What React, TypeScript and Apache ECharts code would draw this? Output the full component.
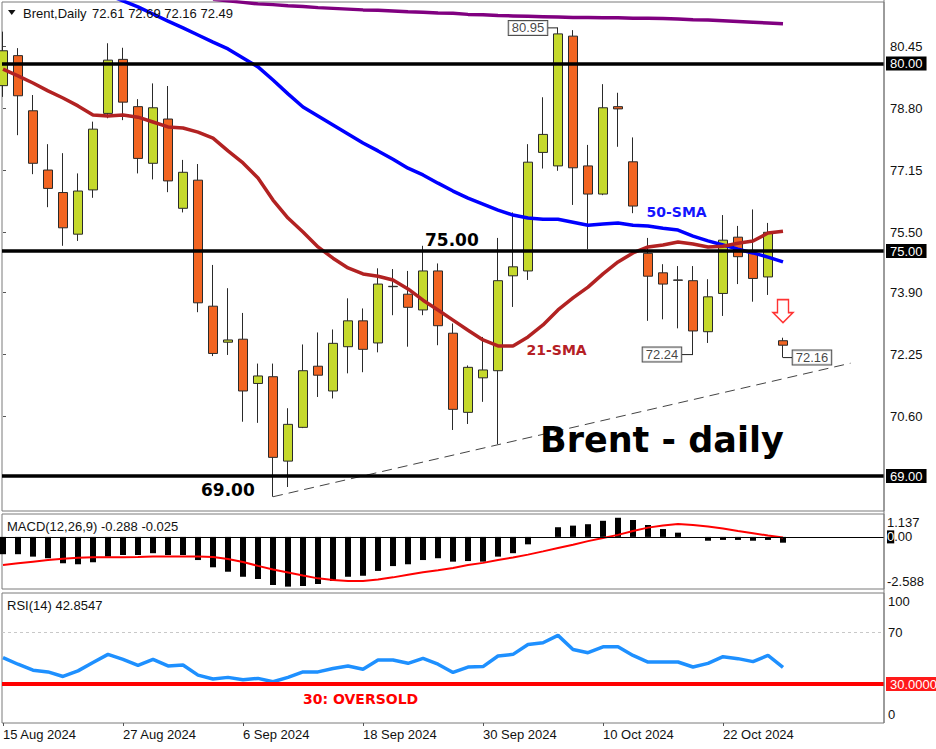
import React, { useEffect, useRef } from 'react';
import * as echarts from 'echarts';

// ---------- data ----------
const dateLabels = ['15 Aug 2024', '27 Aug 2024', '6 Sep 2024', '18 Sep 2024', '30 Sep 2024', '10 Oct 2024', '22 Oct 2024'];
const dateLabelIdx = [0, 8, 16, 24, 32, 40, 48];

const opens = [79.41, 80.21, 78.74, 77.16, 76.56, 75.45, 76.63, 78.67, 80.11, 78.85, 77.34, 78.52, 76.14, 76.89, 73.53, 72.57, 72.65, 71.47, 71.65, 69.4, 70.3, 71.93, 71.27, 72.45, 73.14, 72.55, 74.05, 73.85, 73.43, 74.47, 72.81, 70.7, 71.62, 71.81, 74.34, 74.47, 77.63, 77.27, 80.73, 77.27, 76.52, 78.85, 77.38, 74.94, 74.42, 74.23, 74.21, 72.85, 73.87, 75.37, 74.94, 74.31, 72.61];
const closes = [80.34, 79.14, 77.34, 76.67, 75.62, 76.6, 78.25, 80.09, 78.97, 77.47, 78.82, 76.87, 77.1, 73.62, 72.27, 72.63, 71.27, 71.67, 69.5, 70.38, 71.81, 71.69, 72.54, 73.14, 72.38, 74.12, 74.06, 73.5, 74.47, 73.01, 70.78, 71.9, 71.83, 74.21, 74.58, 77.37, 78.11, 80.79, 77.22, 76.52, 78.82, 78.79, 76.2, 74.33, 74.12, 74.22, 72.87, 73.78, 75.29, 74.85, 74.27, 75.5, 72.49];
const lows = [79.11, 78.09, 77.05, 76.17, 75.14, 75.27, 76.42, 78.54, 78.49, 77.07, 76.91, 76.57, 76.03, 73.37, 72.2, 72.23, 70.45, 70.42, 68.45, 68.71, 70.28, 71.11, 71.07, 71.74, 71.77, 72.3, 73.29, 72.45, 73.29, 72.49, 70.23, 70.39, 70.98, 69.85, 73.51, 74.23, 77.2, 77.14, 76.23, 75.05, 76.49, 77.78, 76.01, 73.14, 73.18, 72.94, 72.24, 72.55, 73.27, 74.12, 73.65, 73.83, 72.16];
const highs = [80.85, 80.41, 79.16, 77.85, 77.61, 77.07, 78.45, 80.54, 80.42, 79.05, 79.47, 79.4, 77.43, 77.32, 74.63, 74.01, 73.35, 72.0, 72.0, 70.81, 72.51, 72.83, 72.91, 73.74, 73.47, 74.54, 74.52, 74.47, 75.14, 74.67, 73.07, 71.95, 72.71, 75.35, 76.03, 77.85, 79.1, 80.95, 80.89, 77.83, 79.45, 79.22, 78.03, 75.35, 74.65, 74.6, 74.6, 74.25, 75.96, 75.67, 76.11, 75.75, 72.69];

const sma21 = [79.85, 79.67, 79.48, 79.27, 79.08, 78.87, 78.63, 78.6, 78.63, 78.57, 78.44, 78.31, 78.28, 78.17, 78.01, 77.67, 77.35, 76.95, 76.36, 75.88, 75.51, 75.11, 74.81, 74.55, 74.39, 74.33, 74.23, 73.99, 73.69, 73.43, 73.16, 72.89, 72.63, 72.47, 72.47, 72.71, 73.03, 73.43, 73.75, 74.04, 74.39, 74.71, 74.95, 75.11, 75.16, 75.24, 75.19, 75.11, 75.13, 75.21, 75.27, 75.48, 75.53];
const sma50 = [null, null, null, null, null, null, null, 81.83, 81.67, 81.51, 81.32, 81.13, 80.95, 80.76, 80.57, 80.39, 80.15, 79.91, 79.56, 79.19, 78.84, 78.6, 78.36, 78.12, 77.88, 77.67, 77.45, 77.21, 77.03, 76.81, 76.6, 76.41, 76.25, 76.09, 75.96, 75.88, 75.85, 75.85, 75.77, 75.69, 75.72, 75.75, 75.69, 75.67, 75.61, 75.56, 75.4, 75.27, 75.16, 75.05, 74.95, 74.84, 74.71];
const sma200 = [null, null, null, null, null, null, null, null, null, null, null, null, null, null, 81.71, 81.67, 81.63, 81.59, 81.57, 81.54, 81.52, 81.49, 81.47, 81.45, 81.43, 81.42, 81.4, 81.38, 81.37, 81.35, 81.34, 81.31, 81.3, 81.28, 81.27, 81.26, 81.25, 81.24, 81.23, 81.23, 81.22, 81.22, 81.21, 81.21, 81.2, 81.19, 81.17, 81.16, 81.14, 81.12, 81.1, 81.08, 81.06];

const macdHist = [-0.86, -0.86, -0.98, -1.06, -1.31, -1.36, -1.26, -0.98, -0.9, -0.9, -0.81, -0.9, -0.9, -1.15, -1.51, -1.73, -1.98, -2.09, -2.39, -2.47, -2.44, -2.34, -2.19, -1.98, -1.93, -1.69, -1.45, -1.36, -1.15, -1.06, -1.23, -1.2, -1.23, -0.98, -0.81, -0.37, 0, 0.48, 0.56, 0.63, 0.8, 0.95, 0.84, 0.59, 0.39, 0.21, 0, -0.19, -0.15, -0.15, -0.19, -0.15, -0.288];
const macdSignal = [-1.4, -1.31, -1.23, -1.15, -1.08, -1.03, -1.01, -1.01, -1.01, -1.0, -0.98, -0.98, -0.98, -0.98, -1.0, -1.1, -1.25, -1.44, -1.62, -1.77, -1.92, -2.06, -2.14, -2.19, -2.19, -2.12, -2.01, -1.88, -1.76, -1.66, -1.54, -1.4, -1.29, -1.15, -1.02, -0.88, -0.72, -0.55, -0.39, -0.21, -0.05, 0.1, 0.29, 0.46, 0.57, 0.64, 0.59, 0.52, 0.42, 0.29, 0.18, 0.07, -0.025];
const rsi14 = [50.3, 45.2, 40.6, 39.3, 35.8, 40.1, 46.5, 52.8, 49.0, 44.4, 49.0, 43.9, 44.6, 36.8, 33.8, 35.1, 33.3, 34.3, 31.7, 35.1, 39.3, 39.3, 41.9, 43.9, 41.4, 48.4, 48.4, 45.9, 49.7, 45.2, 38.9, 43.0, 43.4, 51.5, 52.8, 60.4, 61.7, 67.4, 56.6, 54.1, 58.6, 58.6, 52.0, 46.9, 46.9, 46.9, 43.1, 45.9, 51.0, 49.5, 47.2, 52.0, 42.8547];

const priceTicks = [80.45, 78.8, 77.15, 75.5, 73.9, 72.25, 70.6];
const priceLevels = [80, 75, 69];
const macdMin = -2.588;
const macdMax = 1.137;
const macdTicks = [macdMax, 0, macdMin];
const rsiTicks = [100, 70, 0];
const rsiOversold = 30;
const rsiOverbought = 70;

// trend line (support) end points [bar index, price]
const trendStart = [18, 68.45];
const trendEnd = [56.5, 72.01];

// price call-outs
const callouts = [
  { at: 35, price: 80.95, bar: 37, from: 36.33 },
  { at: 43.93, price: 72.24, bar: 46, from: 45.27 },
  { at: 53.93, price: 72.16, bar: 52, from: 52.6 },
];

// ---------- layout constants ----------
const X_MIN = -1 / 15;
const X_MAX = 58.8 - 1 / 15;
const FONT = 'Liberation Sans, Arial, sans-serif';
const BOLD = 'DejaVu Sans, Verdana, sans-serif';
const FRAME = '#7a7a7a';
const BULL = '#c5d92d';
const BEAR = '#f26522';

export default function App() {
  const ref = useRef<HTMLDivElement>(null);

  useEffect(() => {
    const chart = echarts.init(ref.current!, null, { renderer: 'svg' });
    const last = opens.length - 1;
    const candles = opens.map((o, i) => [i, o, closes[i], lows[i], highs[i]]);
    const pts = (arr: (number | null)[]) =>
      arr.map((v, i) => (v == null ? null : [i, v])).filter((p) => p !== null);

    const xBase = (gridIndex: number) => ({
      type: 'value',
      gridIndex,
      min: X_MIN,
      max: X_MAX,
      splitLine: { show: false },
      axisLine: { show: false },
      axisTick: { show: false },
      axisLabel: { show: false },
    });

    const option: any = {
      animation: false,
      backgroundColor: '#fff',
      textStyle: { fontFamily: FONT },
      grid: [
        { left: 2, top: 2, width: 882, height: 509, show: true, borderColor: FRAME, borderWidth: 1, backgroundColor: '#fff' },
        { left: 2, top: 514, width: 882, height: 75, show: true, borderColor: FRAME, borderWidth: 1, backgroundColor: '#fff' },
        { left: 2, top: 593, width: 882, height: 130, show: true, borderColor: FRAME, borderWidth: 1, backgroundColor: '#fff' },
      ],
      xAxis: [
        xBase(0),
        xBase(1),
        {
          ...xBase(2),
          axisTick: { show: true, customValues: dateLabelIdx, length: 3, lineStyle: { color: '#555' } },
          axisLabel: {
            show: true,
            customValues: dateLabelIdx,
            formatter: (v: number) => dateLabels[dateLabelIdx.indexOf(Math.round(v))] ?? '',
            align: 'left',
            margin: 5,
            color: '#111',
            fontSize: 13,
            fontFamily: FONT,
          },
        },
      ],
      yAxis: [
        {
          type: 'value',
          gridIndex: 0,
          position: 'right',
          min: 68.07,
          max: 81.64,
          splitLine: { show: false },
          axisLine: { show: false },
          axisTick: { show: true, customValues: priceTicks, length: 3, lineStyle: { color: '#555' } },
          axisLabel: {
            customValues: priceTicks,
            formatter: (v: number) => v.toFixed(2),
            margin: 6,
            color: '#111',
            fontSize: 13,
            fontFamily: FONT,
          },
        },
        {
          type: 'value',
          gridIndex: 1,
          position: 'right',
          min: macdMin,
          max: macdMax,
          splitLine: { show: false },
          axisLine: { show: false },
          axisTick: { show: false },
          axisLabel: {
            customValues: macdTicks,
            formatter: (v: number) => {
              if (Math.abs(v) < 1e-9) return '{k|0}{n|.00}';
              if (v > 0) return '\n' + v.toFixed(3);
              return v.toFixed(3) + '\n';
            },
            margin: 3,
            lineHeight: 16,
            color: '#111',
            fontSize: 13,
            fontFamily: FONT,
            rich: {
              k: { backgroundColor: '#000', color: '#fff', fontSize: 13, fontFamily: FONT, lineHeight: 14 },
              n: { color: '#111', fontSize: 13, fontFamily: FONT, lineHeight: 14 },
            },
          },
        },
        {
          type: 'value',
          gridIndex: 2,
          position: 'right',
          min: 0,
          max: 100,
          splitLine: { show: false },
          axisLine: { show: false },
          axisTick: { show: false },
          axisLabel: {
            customValues: rsiTicks,
            formatter: (v: number) => (v === 100 ? '\n100' : v === 0 ? '0\n' : String(v)),
            margin: 4,
            lineHeight: 17,
            color: '#111',
            fontSize: 13,
            fontFamily: FONT,
          },
        },
      ],
      series: [
        {
          type: 'candlestick',
          xAxisIndex: 0,
          yAxisIndex: 0,
          data: candles,
          barWidth: 9,
          clip: true,
          itemStyle: {
            color: BULL,
            color0: BEAR,
            borderColor: '#2a2a2a',
            borderColor0: '#2a2a2a',
            borderColorDoji: '#2a2a2a',
            borderWidth: 1,
          },
          z: 2,
        },
        {
          type: 'line', name: 'SMA200', xAxisIndex: 0, yAxisIndex: 0, data: pts(sma200),
          showSymbol: false, clip: true, lineStyle: { color: '#800080', width: 3.5 }, z: 3,
        },
        {
          type: 'line', name: 'SMA50', xAxisIndex: 0, yAxisIndex: 0, data: pts(sma50),
          showSymbol: false, clip: true, lineStyle: { color: '#0000ff', width: 3.5 }, z: 3,
        },
        {
          type: 'line', name: 'SMA21', xAxisIndex: 0, yAxisIndex: 0, data: pts(sma21),
          showSymbol: false, clip: true, lineStyle: { color: '#b22222', width: 3.5 }, z: 3,
        },
        {
          type: 'line', name: 'trend', xAxisIndex: 0, yAxisIndex: 0, data: [trendStart, trendEnd],
          showSymbol: false, lineStyle: { color: '#444', width: 1, type: [10, 6] }, z: 3,
        },
        {
          type: 'line', name: 'levels', xAxisIndex: 0, yAxisIndex: 0, data: [], clip: false, z: 4,
          markLine: {
            silent: true,
            symbol: 'none',
            animation: false,
            data: [
              ...priceLevels.map((v) => ({
                yAxis: v,
                lineStyle: { color: '#000', width: 3.5, type: 'solid' },
                label: {
                  show: true, position: 'end', distance: 2, formatter: v.toFixed(2),
                  backgroundColor: '#000', color: '#fff', padding: [0, 4, 0, 4], lineHeight: 14,
                  fontSize: 13, fontFamily: FONT,
                },
              })),
              {
                yAxis: closes[last],
                lineStyle: { opacity: 0, width: 0 },
                label: {
                  show: true, position: 'end', distance: 2, formatter: closes[last].toFixed(2),
                  backgroundColor: '#000', color: '#fff', padding: [0, 4, 0, 4], lineHeight: 14,
                  fontSize: 13, fontFamily: FONT,
                },
              },
            ],
          },
        },
        ...callouts.map((c) => ({
          type: 'line', xAxisIndex: 0, yAxisIndex: 0,
          data: [[c.from, c.price], [c.bar, c.price]],
          showSymbol: false, lineStyle: { color: '#222', width: 1 }, z: 5,
        })),
        {
          type: 'scatter', xAxisIndex: 0, yAxisIndex: 0, symbolSize: 0, z: 6,
          data: callouts.map((c) => [c.at, c.price]),
          label: {
            show: true, position: 'inside',
            formatter: (p: any) => p.value[1].toFixed(2),
            backgroundColor: '#fff', borderColor: '#222', borderWidth: 1,
            padding: [1, 3, 0, 3], color: '#111', fontSize: 13, fontFamily: FONT,
          },
        },
        {
          type: 'scatter', xAxisIndex: 0, yAxisIndex: 0, z: 6,
          data: [[last, 73.4]],
          symbol: 'path://M4.5,0 L15.5,0 L15.5,13 L20,13 L10,23 L0,13 L4.5,13 Z',
          symbolSize: [20, 23],
          itemStyle: { color: '#fff', borderColor: '#ff0000', borderWidth: 1.5 },
        },
        {
          type: 'bar', name: 'MACD', xAxisIndex: 1, yAxisIndex: 1,
          data: macdHist.map((v, i) => [i, v]), barWidth: 6,
          itemStyle: { color: '#000' }, z: 2,
          markLine: {
            silent: true, symbol: 'none', animation: false,
            data: [{ yAxis: 0 }],
            lineStyle: { color: '#000', width: 1, type: 'solid' },
            label: { show: false },
          },
        },
        {
          type: 'line', name: 'Signal', xAxisIndex: 1, yAxisIndex: 1,
          data: macdSignal.map((v, i) => [i, v]), showSymbol: false,
          lineStyle: { color: '#ff0000', width: 2 }, z: 3,
        },
        {
          type: 'line', name: 'RSI', xAxisIndex: 2, yAxisIndex: 2,
          data: rsi14.map((v, i) => [i, v]), showSymbol: false,
          lineStyle: { color: '#1e90ff', width: 3.5 }, z: 3,
        },
        {
          type: 'line', name: 'rsiLevels', xAxisIndex: 2, yAxisIndex: 2, data: [], clip: false, z: 2,
          markLine: {
            silent: true, symbol: 'none', animation: false,
            data: [
              {
                yAxis: rsiOverbought,
                lineStyle: { color: '#c8c8c8', width: 1, type: [3, 3] },
                label: { show: false },
              },
              {
                yAxis: rsiOversold,
                lineStyle: { color: '#ff0000', width: 4, type: 'solid' },
                label: {
                  show: true, position: 'end', distance: 2, formatter: rsiOversold.toFixed(4),
                  backgroundColor: '#ff1a1a', color: '#fff', padding: [0, 4, 0, 4], lineHeight: 14,
                  fontSize: 13, fontFamily: FONT,
                },
              },
            ],
          },
        },
      ],
      graphic: [
        { type: 'line', silent: true, shape: { x1: 884, y1: 0, x2: 884, y2: 723 }, style: { stroke: FRAME, lineWidth: 1 }, z: 10 },
        { type: 'polygon', silent: true, shape: { points: [[8, 10], [15.5, 10], [11.75, 15]] }, style: { fill: '#111' }, z: 10 },
        {
          type: 'text', x: 23, y: 13.5, silent: true, z: 10,
          style: { text: 'Brent,Daily', font: `13px ${FONT}`, fill: '#111', align: 'left', verticalAlign: 'middle' },
        },
        {
          type: 'text', x: 92, y: 13.5, silent: true, z: 10,
          style: {
            text: [opens[last], highs[last], lows[last], closes[last]].map((v) => v.toFixed(2)).join(' '),
            font: `13px ${FONT}`, fill: '#111', align: 'left', verticalAlign: 'middle',
          },
        },
        {
          type: 'text', x: 7, y: 526, silent: true, z: 10,
          style: {
            text: `MACD(12,26,9) ${macdHist[last].toFixed(3)} ${macdSignal[last].toFixed(3)}`,
            font: `13px ${FONT}`, fill: '#111', align: 'left', verticalAlign: 'middle',
          },
        },
        {
          type: 'text', x: 7, y: 605, silent: true, z: 10,
          style: { text: `RSI(14) ${rsi14[last].toFixed(4)}`, font: `13px ${FONT}`, fill: '#111', align: 'left', verticalAlign: 'middle' },
        },
        {
          type: 'text', x: 425, y: 240, silent: true, z: 10,
          style: { text: '75.00', font: `bold 17px ${BOLD}`, fill: '#000', align: 'left', verticalAlign: 'middle' },
        },
        {
          type: 'text', x: 201, y: 489.5, silent: true, z: 10,
          style: { text: '69.00', font: `bold 17px ${BOLD}`, fill: '#000', align: 'left', verticalAlign: 'middle' },
        },
        {
          type: 'text', x: 646.5, y: 212, silent: true, z: 10,
          style: { text: '50-SMA', font: `bold 14px ${BOLD}`, fill: '#1414ff', align: 'left', verticalAlign: 'middle' },
        },
        {
          type: 'text', x: 526.5, y: 350, silent: true, z: 10,
          style: { text: '21-SMA', font: `bold 14px ${BOLD}`, fill: '#b52025', align: 'left', verticalAlign: 'middle' },
        },
        {
          type: 'text', x: 540, y: 440, silent: true, z: 10,
          style: { text: 'Brent - daily', font: `bold 35px ${BOLD}`, fill: '#000', align: 'left', verticalAlign: 'middle' },
        },
        {
          type: 'text', x: 303, y: 698.5, silent: true, z: 10,
          style: { text: '30: OVERSOLD', font: `bold 14px ${BOLD}`, fill: '#ff0000', align: 'left', verticalAlign: 'middle' },
        },
      ],
    };

    chart.setOption(option);
    return () => chart.dispose();
  }, []);

  return (
    <div
      ref={ref}
      style={{ position: 'fixed', left: 0, top: 0, width: 936, height: 749, background: '#fff' }}
    />
  );
}
